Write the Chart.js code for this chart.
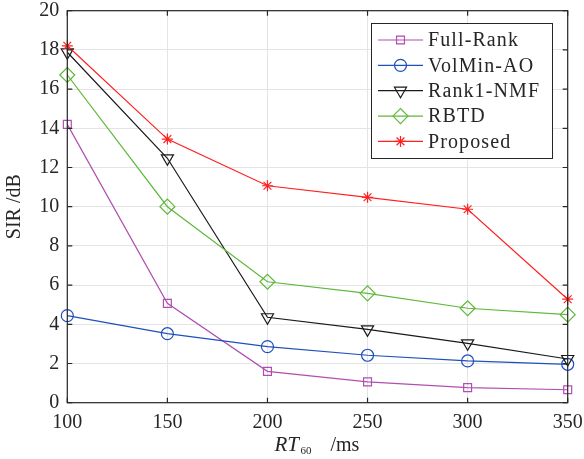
<!DOCTYPE html>
<html>
<head>
<meta charset="utf-8">
<script src="https://cdn.jsdelivr.net/npm/chart.js@4/dist/chart.umd.min.js"></script>
<style>
html,body{margin:0;padding:0;background:#fff;}
#wrap{width:584px;height:459px;position:relative;}
</style>
</head>
<body>
<div id="wrap"><canvas id="c" width="584" height="459"></canvas></div>
<script>
const categories = [100, 150, 200, 250, 300, 350];
const fullRank = [14.2, 5.07, 1.60, 1.06, 0.77, 0.66];
const volMin = [4.44, 3.52, 2.86, 2.42, 2.13, 1.96];
const rank1 = [17.88, 12.47, 4.36, 3.74, 3.03, 2.23];
const rbtd = [16.72, 10.0, 6.17, 5.58, 4.82, 4.49];
const proposed = [18.21, 13.45, 11.07, 10.48, 9.87, 5.28];
const seriesNames = ['Full-Rank', 'VolMin-AO', 'Rank1-NMF', 'RBTD', 'Proposed'];
const xTicks = [100, 150, 200, 250, 300, 350];
const yTicks = [0, 2, 4, 6, 8, 10, 12, 14, 16, 18, 20];

const FONT = '"Liberation Serif", "Times New Roman", serif';

const styles = [
  {color: '#b04fb0', pointStyle: 'rect', radius: 5.6, rotation: 0},
  {color: '#1f4fbf', pointStyle: 'circle', radius: 6, rotation: 0},
  {color: '#1a1a1a', pointStyle: 'triangle', radius: 7, rotation: 180},
  {color: '#5fb83a', pointStyle: 'rectRot', radius: 7.5, rotation: 0},
  {color: '#ff2020', pointStyle: 'star', radius: 5.5, rotation: 0}
];
const seriesValues = [fullRank, volMin, rank1, rbtd, proposed];

const datasets = seriesValues.map((vals, i) => ({
  label: seriesNames[i],
  data: categories.map((x, j) => ({x: x, y: vals[j]})),
  borderColor: styles[i].color,
  backgroundColor: 'rgba(0,0,0,0)',
  borderWidth: 1.2,
  pointStyle: styles[i].pointStyle,
  pointRadius: styles[i].radius,
  pointRotation: styles[i].rotation,
  pointBorderWidth: 1.2,
  pointBorderColor: styles[i].color,
  pointBackgroundColor: 'rgba(0,0,0,0)',
  pointHoverRadius: styles[i].radius,
  tension: 0,
  clip: false,
  order: 4 - i
}));

const framePlugin = {
  id: 'frame',
  afterDraw(chart) {
    const ctx = chart.ctx;
    const a = chart.chartArea;
    const xs = chart.scales.x, ys = chart.scales.y;
    ctx.save();
    ctx.strokeStyle = '#262626';
    ctx.lineWidth = 1.2;
    ctx.strokeRect(a.left, a.top, a.right - a.left, a.bottom - a.top);
    ctx.beginPath();
    const tl = 5;
    yTicks.forEach(v => {
      const y = ys.getPixelForValue(v);
      ctx.moveTo(a.left, y); ctx.lineTo(a.left + tl, y);
      ctx.moveTo(a.right, y); ctx.lineTo(a.right - tl, y);
    });
    xTicks.forEach(v => {
      const x = xs.getPixelForValue(v);
      ctx.moveTo(x, a.bottom); ctx.lineTo(x, a.bottom - tl);
      ctx.moveTo(x, a.top); ctx.lineTo(x, a.top + tl);
    });
    ctx.stroke();

    // legend
    const bx = 371, by = 23, bw = 181, bh = 135;
    ctx.fillStyle = '#ffffff';
    ctx.fillRect(bx, by, bw, bh);
    ctx.strokeStyle = '#262626';
    ctx.lineWidth = 1;
    ctx.strokeRect(bx + 0.5, by + 0.5, bw, bh);
    seriesNames.forEach((name, i) => {
      const y = 40 + i * 25.35;
      const st = styles[i];
      ctx.strokeStyle = st.color;
      ctx.lineWidth = 1.2;
      ctx.beginPath();
      ctx.moveTo(378, y); ctx.lineTo(423, y);
      ctx.stroke();
      ctx.fillStyle = 'rgba(0,0,0,0)';
      ctx.strokeStyle = st.color;
      Chart.helpers.drawPoint(ctx, {pointStyle: st.pointStyle, radius: st.radius, rotation: st.rotation, borderWidth: 1.2}, 400.5, y);
      ctx.fillStyle = '#262626';
      ctx.font = '20px ' + FONT;
      ctx.textBaseline = 'middle';
      ctx.textAlign = 'left';
      ctx.letterSpacing = '1.1px';
      ctx.fillText(name, 428, y + 1);
      ctx.letterSpacing = '0px';
    });

    // x axis title: RT_60 /ms
    const cx = (a.left + a.right) / 2;
    const base = 451;
    ctx.fillStyle = '#262626';
    ctx.textBaseline = 'alphabetic';
    ctx.textAlign = 'left';
    ctx.font = 'italic 21px ' + FONT; ctx.fillText('RT', cx - 43, base);
    ctx.font = '11px ' + FONT; ctx.fillText('60', cx - 17, base + 3);
    ctx.font = '20px ' + FONT; ctx.fillText('/ms', cx + 13, base);
    ctx.restore();
  }
};

new Chart(document.getElementById('c'), {
  type: 'line',
  data: {datasets: datasets},
  options: {
    responsive: false,
    animation: false,
    events: [],
    layout: {padding: {top: 10.7, right: 16.3, left: 0, bottom: 0}},
    plugins: {legend: {display: false}, tooltip: {enabled: false}},
    scales: {
      x: {
        type: 'linear', min: 100, max: 350,
        afterFit(s) { s.height = 459 - 402.7; s.paddingLeft = 0; s.paddingRight = 0; },
        afterBuildTicks(s) { s.ticks = xTicks.map(v => ({value: v})); },
        grid: {color: '#e4e4e4', lineWidth: 1, drawTicks: false},
        border: {display: false},
        ticks: {font: {family: FONT, size: 20, lineHeight: 1}, color: '#262626', padding: 10, maxRotation: 0},
        title: {display: false}
      },
      y: {
        type: 'linear', min: 0, max: 20,
        afterFit(s) { s.width = 67.3; s.paddingTop = 0; s.paddingBottom = 0; },
        afterBuildTicks(s) { s.ticks = yTicks.map(v => ({value: v})); },
        grid: {color: '#e4e4e4', lineWidth: 1, drawTicks: false},
        border: {display: false},
        ticks: {font: {family: FONT, size: 20, lineHeight: 1}, color: '#262626', padding: 8},
        title: {display: true, text: 'SIR /dB', font: {family: FONT, size: 20}, color: '#262626', padding: {top: 3, bottom: 0}}
      }
    }
  },
  plugins: [framePlugin]
});
</script>
</body>
</html>
